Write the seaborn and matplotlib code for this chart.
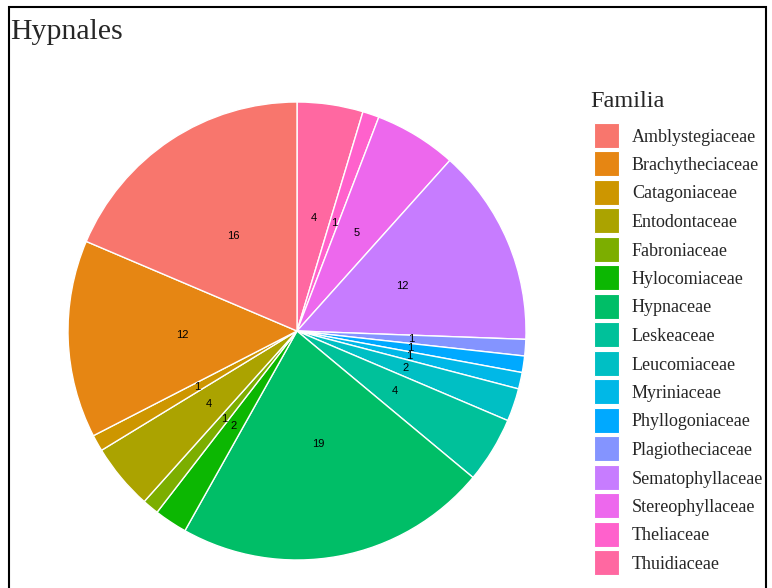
import numpy as np
import matplotlib
matplotlib.use("Agg")
import matplotlib.pyplot as plt
from matplotlib.patches import Rectangle
import seaborn as sns

title = "Hypnales"
legend_title = "Familia"
familias = ["Amblystegiaceae", "Brachytheciaceae", "Catagoniaceae", "Entodontaceae",
            "Fabroniaceae", "Hylocomiaceae", "Hypnaceae", "Leskeaceae", "Leucomiaceae",
            "Myriniaceae", "Phyllogoniaceae", "Plagiotheciaceae", "Sematophyllaceae",
            "Stereophyllaceae", "Theliaceae", "Thuidiaceae"]
counts = [16, 12, 1, 4, 1, 2, 19, 4, 2, 1, 1, 1, 12, 5, 1, 4]


def hcl_color(h, c=100.0, l=65.0):
    Xn, Yn, Zn = 95.047, 100.0, 108.883
    U = c * np.cos(np.radians(h))
    V = c * np.sin(np.radians(h))
    Y = Yn * ((l + 16) / 116) ** 3
    t = Xn + Yn + Zn
    x = Xn / t
    y = Yn / t
    uN = 2 * x / (6 * y - x + 1.5)
    vN = 4.5 * y / (6 * y - x + 1.5)
    u = U / (13 * l) + uN
    v = V / (13 * l) + vN
    X = 9.0 * Y * u / (4 * v)
    Z = -X / 3 - 5 * Y + 3 * Y / v
    X, Y, Z = X / 100, Y / 100, Z / 100
    R = 3.240479 * X - 1.537150 * Y - 0.498535 * Z
    G = -0.969256 * X + 1.875992 * Y + 0.041556 * Z
    B = 0.055648 * X - 0.204043 * Y + 1.057311 * Z

    def gam(a):
        a = 12.92 * a if a <= 0.0031308 else 1.055 * a ** (1 / 2.4) - 0.055
        return min(max(a, 0.0), 1.0)
    return (gam(R), gam(G), gam(B))


n = len(familias)
hues = np.linspace(15, 15 + 360 - 360 / n, n)
palette = sns.color_palette([hcl_color(h) for h in hues])

sns.set_style("white")
plt.rcParams["font.family"] = ["Liberation Serif", "DejaVu Serif"]

W, H = 772, 588
fig = plt.figure(figsize=(W / 100, H / 100), dpi=100)
fig.patch.set_facecolor("white")

cx, cy, r = 297, 331, 229
ax = fig.add_axes([(cx - r) / W, (H - cy - r) / H, 2 * r / W, 2 * r / H])
total = sum(counts)
vals = counts[::-1]
cols = list(palette)[::-1]
wedges, texts, autotexts = ax.pie(
    vals, colors=cols, startangle=90, counterclock=False,
    wedgeprops=dict(edgecolor="white", linewidth=1.0),
    autopct=lambda p: f"{int(round(p * total / 100))}", pctdistance=0.5,
    textprops=dict(family="Liberation Sans", fontsize=8, color="black"))
ax.set_xlim(-1, 1)
ax.set_ylim(-1, 1)
ax.set_aspect("equal")
ax.axis("off")

fig.text(10 / W, 1 - 39 / H, title, fontsize=21.5, ha="left", va="baseline",
         family="Liberation Serif")

# legend (drawn manually to match ggplot layout)
fig.text(590 / W, 1 - 107 / H, legend_title, fontsize=17.5, ha="left", va="baseline",
         family="Liberation Serif")
key0, step, ks = 135.0, 28.5, 25.0
for i, name in enumerate(familias):
    yc = key0 + step * i
    fig.patches.append(Rectangle((594 / W, 1 - (yc + ks / 2) / H), ks / W, ks / H,
                                 transform=fig.transFigure, facecolor=palette[i],
                                 edgecolor="white", linewidth=0.8))
    fig.text(632 / W, 1 - yc / H, name, fontsize=13, ha="left", va="center_baseline",
             family="Liberation Serif")

fig.patches.append(Rectangle((9 / W, -0.05), (766 - 9) / W, 1.05 - 7 / H,
                             transform=fig.transFigure, fill=False,
                             edgecolor="black", linewidth=1.5, clip_on=False))

fig.savefig("out.png", dpi=100)
